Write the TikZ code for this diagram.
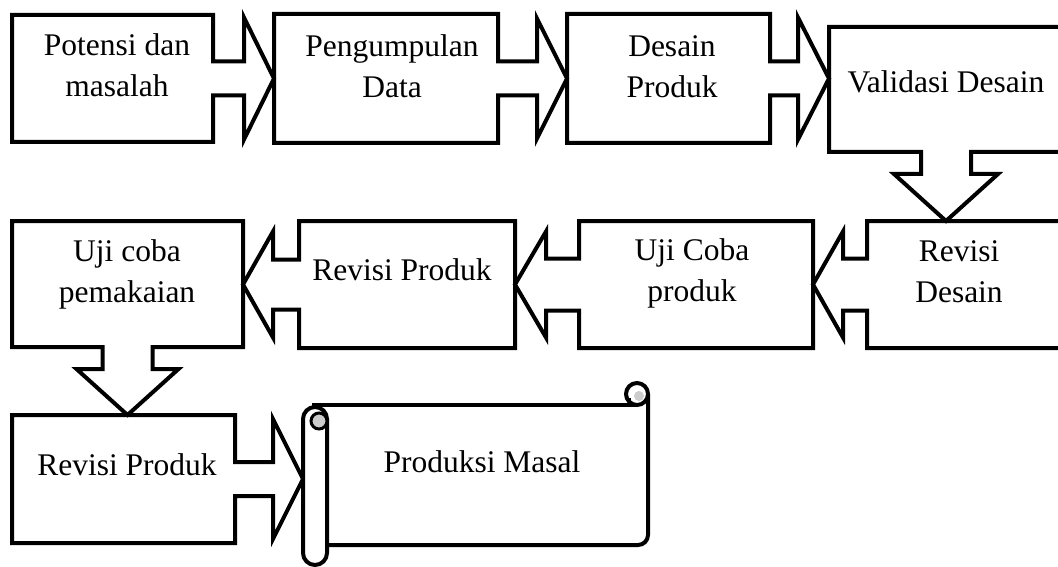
\documentclass[tikz,border=0pt]{standalone}
\usepackage{fontspec}
\setmainfont{Liberation Serif}
\usetikzlibrary{calc}

\begin{document}
\begin{tikzpicture}[x=1pt, y=-1pt,
	box/.style={rectangle, inner sep=0pt, outer sep=0pt},
	outl/.style={line width=4pt},
	txt/.style={align=center, inner sep=0pt, font=\fontsize{31.5}{41}\selectfont}]
	\fill[white] (0,0) rectangle (1058,567);
	\useasboundingbox (0,0) rectangle (1058,567);
	% first row
	\node[box, minimum width=201, minimum height=127] (pot) at (112.5,78.5) {};
	\node[box, minimum width=224, minimum height=129] (peng) at (386,78.5) {};
	\node[box, minimum width=203, minimum height=129] (des) at (668.5,78.5) {};
	\node[box, minimum width=234, minimum height=125] (val) at (946,89.5) {};
	% second row
	\node[box, minimum width=194, minimum height=127] (rds) at (964,284.5) {};
	\node[box, minimum width=234, minimum height=127] (ujp) at (696,284.5) {};
	\node[box, minimum width=216, minimum height=127] (rvp) at (407,284.5) {};
	\node[box, minimum width=231, minimum height=126] (ujc) at (127.5,284) {};
	% third row
	\node[box, minimum width=223, minimum height=128] (rvq) at (123.5,479) {};
	\node[box, minimum width=24, minimum height=158] (roll) at (315,486) {};
	\node[box, minimum width=333, minimum height=140] (prod) at (481.5,475) {};
	% labels
	\node[txt] (potT) at (117,65) {Potensi dan\\masalah};
	\node[txt] (pengT) at (392,66) {Pengumpulan\\Data};
	\node[txt] (desT) at (672,67) {Desain\\Produk};
	\node[txt] (valT) at (946,82) {Validasi Desain};
	\node[txt] (rdsT) at (959,272) {Revisi\\Desain};
	\node[txt] (ujpT) at (692,273) {Uji Coba\\produk};
	\node[txt] (rvpT) at (402,270) {Revisi Produk};
	\node[txt] (ujcT) at (127,274) {Uji coba\\pemakaian};
	\node[txt] (rvqT) at (127,465) {Revisi Produk};
	\node[txt] (prodT) at (482,462) {Produksi Masal};
	% callouts pointing right
	\draw[outl] let \p1=(pot.east), \p2=(peng.west) in (pot.north west) -- (pot.north east) -- (\x1,\y1+17) -- (\x2-30,\y1+17) -- (\x2-30,\y1+61) -- (\x2,\y1) -- (\x2-30,\y1-61) -- (\x2-30,\y1-17) -- (\x1,\y1-17) -- (pot.south east) -- (pot.south west) -- cycle;
	\draw[outl] let \p1=(peng.east), \p2=(des.west) in (peng.north west) -- (peng.north east) -- (\x1,\y1+17) -- (\x2-30,\y1+17) -- (\x2-30,\y1+60) -- (\x2,\y1) -- (\x2-30,\y1-60) -- (\x2-30,\y1-17) -- (\x1,\y1-17) -- (peng.south east) -- (peng.south west) -- cycle;
	\draw[outl] let \p1=(des.east), \p2=(val.west) in (des.north west) -- (des.north east) -- (\x1,\y1+17) -- (\x2-31,\y1+17) -- (\x2-31,\y1+61) -- (\x2,\y1) -- (\x2-31,\y1-61) -- (\x2-31,\y1-17) -- (\x1,\y1-17) -- (des.south east) -- (des.south west) -- cycle;
	\draw[outl] let \p1=(rvq.east), \p2=(roll.west) in (rvq.north west) -- (rvq.north east) -- (\x1,\y1+17) -- (\x2-30,\y1+17) -- (\x2-30,\y1+60) -- (\x2,\y1) -- (\x2-30,\y1-60) -- (\x2-30,\y1-17) -- (\x1,\y1-17) -- (rvq.south east) -- (rvq.south west) -- cycle;
	% callouts pointing down
	\draw[outl] let \p1=(val.south), \p2=(rds.north) in (val.north west) -- (val.north east) -- (val.south east) -- (\x1+25,\y1) -- (\x1+25,\y2+47) -- (\x1+52,\y2+47) -- (\x1,\y2) -- (\x1-52,\y2+47) -- (\x1-25,\y2+47) -- (\x1-25,\y1) -- (val.south west) -- cycle;
	\draw[outl] let \p1=(ujc.south), \p2=(rvq.north) in (ujc.north west) -- (ujc.north east) -- (ujc.south east) -- (\x1+25,\y1) -- (\x1+25,\y2+46) -- (\x1+51,\y2+46) -- (\x1,\y2) -- (\x1-51,\y2+46) -- (\x1-25,\y2+46) -- (\x1-25,\y1) -- (ujc.south west) -- cycle;
	% callouts pointing left
	\draw[outl] let \p1=(rds.west), \p2=(ujp.east) in (rds.north east) -- (rds.north west) -- (\x1,\y1+26) -- (\x2+30,\y1+26) -- (\x2+30,\y1+53) -- (\x2,\y1) -- (\x2+30,\y1-53) -- (\x2+30,\y1-26) -- (\x1,\y1-26) -- (rds.south west) -- (rds.south east) -- cycle;
	\draw[outl] let \p1=(ujp.west), \p2=(rvp.east) in (ujp.north east) -- (ujp.north west) -- (\x1,\y1+26) -- (\x2+31,\y1+26) -- (\x2+31,\y1+53) -- (\x2,\y1) -- (\x2+31,\y1-53) -- (\x2+31,\y1-26) -- (\x1,\y1-26) -- (ujp.south west) -- (ujp.south east) -- cycle;
	\draw[outl] let \p1=(rvp.west), \p2=(ujc.east) in (rvp.north east) -- (rvp.north west) -- (\x1,\y1+25) -- (\x2+30,\y1+25) -- (\x2+30,\y1+53) -- (\x2,\y1) -- (\x2+30,\y1-53) -- (\x2+30,\y1-25) -- (\x1,\y1-25) -- (rvp.south west) -- (rvp.south east) -- cycle;
	% scroll
	\draw[outl, rounded corners=10] (prod.south west) -- (prod.south east) -- (648,394);
	\draw[outl] (312,405) -- (637,405);
	\draw[outl] (637,394) circle (11);
	\fill[gray!40] (639,396) circle (5);
	\draw[line width=2.5pt] (630,398) -- (630,405);
	\draw[outl, fill=white, rounded corners=12] (roll.north west) rectangle (roll.south east);
	\draw[line width=3pt, fill=gray!40] (319,421) circle (8);
\end{tikzpicture}
\end{document}
